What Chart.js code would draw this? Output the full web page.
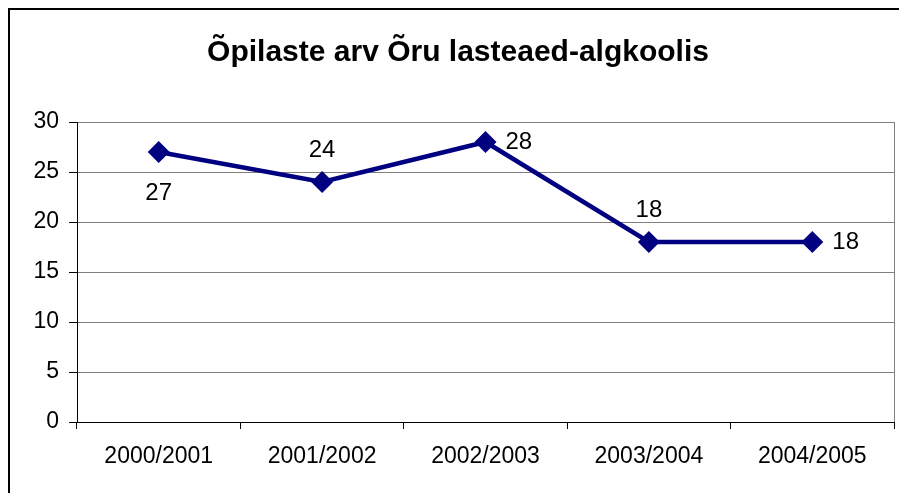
<!DOCTYPE html>
<html>
<head>
<meta charset="utf-8">
<script src="https://cdn.jsdelivr.net/npm/chart.js@4/dist/chart.umd.min.js"></script>
<style>
  html, body { margin: 0; padding: 0; background: #fff; }
  #wrap { width: 899px; height: 493px; position: relative; }
</style>
</head>
<body>
<div id="wrap"><canvas id="chart" width="899" height="493"></canvas></div>
<script>
const chartTitle = 'Õpilaste arv Õru lasteaed-algkoolis';
const years = ['2000/2001', '2001/2002', '2002/2003', '2003/2004', '2004/2005'];
const pupils = [27, 24, 28, 18, 18];
const yTicks = [0, 5, 10, 15, 20, 25, 30];

// where each value label sits relative to its point (like Excel)
const labelSide = ['below', 'above', 'right', 'above', 'right'];

const FONT = '"Liberation Sans", Arial, sans-serif';

const framePlugin = {
    id: 'frame',
    beforeDraw(chart) {
        const ctx = chart.ctx;
        ctx.save();
        ctx.fillStyle = '#fff';
        ctx.fillRect(0, 0, chart.width, chart.height);
        ctx.strokeStyle = '#000';
        ctx.lineWidth = 2;
        ctx.strokeRect(9, 9, chart.width + 20, chart.height + 20);

        ctx.fillStyle = '#000';
        ctx.font = 'bold 30px ' + FONT;
        ctx.textAlign = 'center';
        ctx.textBaseline = 'alphabetic';
        ctx.fillText(chartTitle, 458, 61);
        ctx.restore();
    },
    afterDatasetsDraw(chart) {
        const ctx = chart.ctx;
        const area = chart.chartArea;
        ctx.save();
        // right edge of plot area
        ctx.strokeStyle = '#808080';
        ctx.lineWidth = 1;
        ctx.beginPath();
        ctx.moveTo(area.right + 0.5, area.top);
        ctx.lineTo(area.right + 0.5, area.bottom);
        ctx.stroke();

        // value labels
        const meta = chart.getDatasetMeta(0);
        ctx.fillStyle = '#000';
        ctx.font = '24px ' + FONT;
        ctx.textBaseline = 'middle';
        meta.data.forEach((pt, i) => {
            const v = chart.data.datasets[0].data[i];
            const side = labelSide[i];
            if (side === 'right') {
                ctx.textAlign = 'left';
                ctx.fillText(v, pt.x + 20, pt.y);
            } else if (side === 'above') {
                ctx.textAlign = 'center';
                ctx.fillText(v, pt.x, pt.y - 32);
            } else {
                ctx.textAlign = 'center';
                ctx.fillText(v, pt.x, pt.y + 41);
            }
        });
        ctx.restore();
    }
};

new Chart(document.getElementById('chart'), {
    type: 'line',
    data: {
        labels: years,
        datasets: [{
            data: pupils,
            borderColor: '#000080',
            backgroundColor: '#000080',
            borderWidth: 4.5,
            pointStyle: 'rectRot',
            pointRadius: 11,
            pointHoverRadius: 11,
            pointBorderWidth: 0,
            tension: 0
        }]
    },
    options: {
        responsive: false,
        animation: false,
        layout: { autoPadding: false, padding: { top: 122, right: 5, left: 0, bottom: 0 } },
        plugins: {
            legend: { display: false },
            title: { display: false },
            tooltip: { enabled: false }
        },
        scales: {
            x: {
                offset: true,
                grid: {
                    offset: true,
                    drawOnChartArea: false,
                    drawTicks: true,
                    tickLength: 7,
                    color: '#000'
                },
                border: { color: '#000', width: 1 },
                ticks: {
                    color: '#000',
                    font: { family: FONT, size: 23 },
                    padding: 14,
                    maxRotation: 0
                },
                afterFit(scale) {
                    scale.height = 71;
                    scale.paddingLeft = 0;
                    scale.paddingRight = 0;
                }
            },
            y: {
                min: 0,
                max: 30,
                afterBuildTicks(scale) { scale.ticks = yTicks.map(v => ({ value: v })); },
                grid: {
                    color: '#808080',
                    tickLength: 8,
                    drawTicks: true,
                    tickColor: '#000'
                },
                border: { color: '#000', width: 1 },
                ticks: {
                    color: '#000',
                    font: { family: FONT, size: 23 },
                    padding: 10
                },
                afterFit(scale) {
                    scale.width = 77;
                    scale.paddingTop = 0;
                    scale.paddingBottom = 0;
                }
            }
        }
    },
    plugins: [framePlugin]
});
</script>
</body>
</html>
